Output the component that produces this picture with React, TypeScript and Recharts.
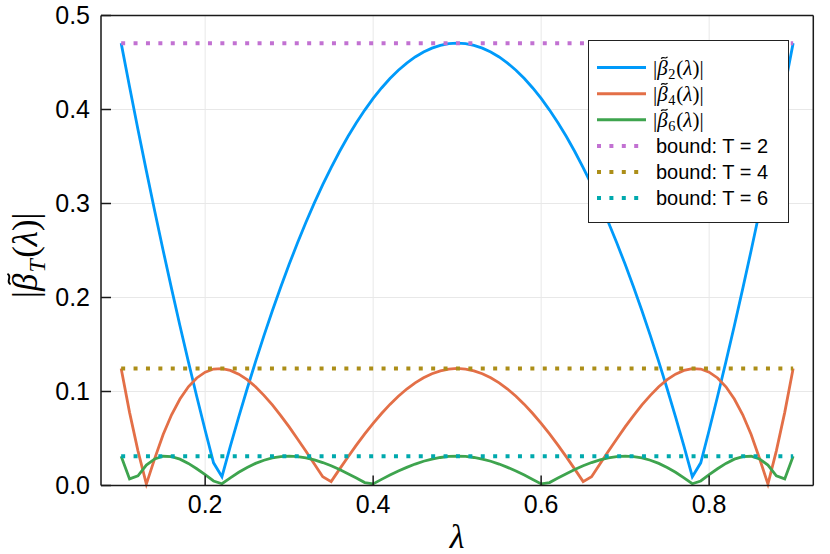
import React from 'react';
import { LineChart, Line, XAxis, YAxis, CartesianGrid, ReferenceLine, Legend } from 'recharts';

// lambda grid (step 0.01)
const lambdas = [
  0.10, 0.11, 0.12, 0.13, 0.14, 0.15, 0.16, 0.17, 0.18, 0.19,
  0.20, 0.21, 0.22, 0.23, 0.24, 0.25, 0.26, 0.27, 0.28, 0.29,
  0.30, 0.31, 0.32, 0.33, 0.34, 0.35, 0.36, 0.37, 0.38, 0.39,
  0.40, 0.41, 0.42, 0.43, 0.44, 0.45, 0.46, 0.47, 0.48, 0.49,
  0.50,
  0.51, 0.52, 0.53, 0.54, 0.55, 0.56, 0.57, 0.58, 0.59, 0.60,
  0.61, 0.62, 0.63, 0.64, 0.65, 0.66, 0.67, 0.68, 0.69, 0.70,
  0.71, 0.72, 0.73, 0.74, 0.75, 0.76, 0.77, 0.78, 0.79, 0.80,
  0.81, 0.82, 0.83, 0.84, 0.85, 0.86, 0.87, 0.88, 0.89, 0.90,
];

const beta2 = [
  0.4706, 0.4241, 0.3788, 0.3347, 0.2918, 0.2500, 0.2094, 0.1700, 0.1318, 0.0947,
  0.0588, 0.0241, 0.0094, 0.0418, 0.0729, 0.1029, 0.1318, 0.1594, 0.1859, 0.2112,
  0.2353, 0.2582, 0.2800, 0.3006, 0.3200, 0.3382, 0.3553, 0.3712, 0.3859, 0.3994,
  0.4118, 0.4229, 0.4330, 0.4418, 0.4494, 0.4559, 0.4612, 0.4653, 0.4682, 0.4700,
  0.4706,
  0.4700, 0.4682, 0.4653, 0.4612, 0.4559, 0.4494, 0.4418, 0.4330, 0.4229, 0.4118,
  0.3994, 0.3859, 0.3712, 0.3553, 0.3382, 0.3200, 0.3006, 0.2800, 0.2582, 0.2353,
  0.2112, 0.1859, 0.1594, 0.1318, 0.1029, 0.0729, 0.0418, 0.0094, 0.0241, 0.0588,
  0.0947, 0.1318, 0.1700, 0.2094, 0.2500, 0.2918, 0.3347, 0.3788, 0.4241, 0.4706,
];

const beta4 = [
  0.1245, 0.0778, 0.0369, 0.0015, 0.0288, 0.0542, 0.0752, 0.0920, 0.1050, 0.1144,
  0.1206, 0.1239, 0.1244, 0.1225, 0.1185, 0.1126, 0.1050, 0.0959, 0.0857, 0.0744,
  0.0623, 0.0495, 0.0364, 0.0229, 0.0094, 0.0041, 0.0174, 0.0304, 0.0429, 0.0549,
  0.0661, 0.0766, 0.0863, 0.0949, 0.1026, 0.1092, 0.1146, 0.1189, 0.1220, 0.1239,
  0.1245,
  0.1239, 0.1220, 0.1189, 0.1146, 0.1092, 0.1026, 0.0949, 0.0863, 0.0766, 0.0661,
  0.0549, 0.0429, 0.0304, 0.0174, 0.0041, 0.0094, 0.0229, 0.0364, 0.0495, 0.0623,
  0.0744, 0.0857, 0.0959, 0.1050, 0.1126, 0.1185, 0.1225, 0.1244, 0.1239, 0.1206,
  0.1144, 0.1050, 0.0920, 0.0752, 0.0542, 0.0288, 0.0015, 0.0369, 0.0778, 0.1245,
];

const beta6 = [
  0.0312, 0.0070, 0.0103, 0.0217, 0.0283, 0.0311, 0.0307, 0.0280, 0.0235, 0.0178,
  0.0115, 0.0048, 0.0019, 0.0082, 0.0141, 0.0192, 0.0235, 0.0269, 0.0293, 0.0308,
  0.0312, 0.0308, 0.0294, 0.0273, 0.0244, 0.0210, 0.0170, 0.0126, 0.0080, 0.0031,
  0.0017, 0.0065, 0.0111, 0.0154, 0.0193, 0.0228, 0.0258, 0.0281, 0.0298, 0.0309,
  0.0312,
  0.0309, 0.0298, 0.0281, 0.0258, 0.0228, 0.0193, 0.0154, 0.0111, 0.0065, 0.0017,
  0.0031, 0.0080, 0.0126, 0.0170, 0.0210, 0.0244, 0.0273, 0.0294, 0.0308, 0.0312,
  0.0308, 0.0293, 0.0269, 0.0235, 0.0192, 0.0141, 0.0082, 0.0019, 0.0048, 0.0115,
  0.0178, 0.0235, 0.0280, 0.0307, 0.0311, 0.0283, 0.0217, 0.0103, 0.0070, 0.0312,
];

// bound values for T = 2, 4, 6
const bounds = [0.4706, 0.1245, 0.0312];
const boundLabels = ['bound: T = 2', 'bound: T = 4', 'bound: T = 6'];
const betaSubs = ['2', '4', '6'];

const xTicks = [0.2, 0.4, 0.6, 0.8];
const yTicks = [0, 0.1, 0.2, 0.3, 0.4, 0.5];

const lineColors = ['#009afa', '#e36f47', '#3ea44e'];
const boundColors = ['#c271d2', '#ac8e18', '#00a9ad'];

const data = lambdas.map((lam, i) => ({
  lam,
  b2: beta2[i],
  b4: beta4[i],
  b6: beta6[i],
  c2: bounds[0],
  c4: bounds[1],
  c6: bounds[2],
}));

const serif = "'Liberation Serif', 'DejaVu Serif', serif";
const sans = "'Liberation Sans', Arial, Helvetica, sans-serif";

// |β_sub(λ)| as text; the tilde over beta is drawn as a small path
const BetaLabel = ({ x, y, size, sub, subItalic }: { x: number; y: number; size: number; sub: string; subItalic: boolean }) => {
  const subShift = size * 0.22;
  const cx = x + size * 0.54;
  const cy = y - size * 0.8;
  const w = size * 0.3;
  const a = size * 0.045;
  return (
    <g>
      <text x={x} y={y} fontFamily={serif} fontSize={size} fill="#000">
        <tspan>|</tspan>
        <tspan fontStyle="italic">β</tspan>
        <tspan dx={size * 0.03} dy={subShift} fontSize={size * 0.68} fontStyle={subItalic ? 'italic' : 'normal'}>{sub}</tspan>
        <tspan dx={size * 0.04} dy={-subShift}>(</tspan>
        <tspan fontStyle="italic">λ</tspan>
        <tspan>)|</tspan>
      </text>
      <path
        d={`M ${cx - w / 2} ${cy + a} C ${cx - w / 4} ${cy - 2.4 * a} ${cx + w / 4} ${cy + 2.4 * a} ${cx + w / 2} ${cy - a}`}
        stroke="#000"
        strokeWidth={size * 0.055}
        fill="none"
      />
    </g>
  );
};

const LegendBox = () => {
  const rowY = (i: number) => 26.6 + 26.1 * i;
  return (
    <div style={{ width: 201, height: 183, border: '1.5px solid #222', background: '#fff', boxSizing: 'border-box' }}>
      <svg width={198} height={180} style={{ display: 'block' }}>
        {betaSubs.map((s, i) => (
          <g key={s}>
            <line x1={8} x2={57} y1={rowY(i)} y2={rowY(i)} stroke={lineColors[i]} strokeWidth={3} />
            <BetaLabel x={64} y={rowY(i) + 7} size={21} sub={s} subItalic={false} />
          </g>
        ))}
        {boundLabels.map((s, i) => (
          <g key={s}>
            <line x1={8} x2={50} y1={rowY(i + 3)} y2={rowY(i + 3)} stroke={boundColors[i]} strokeWidth={4} strokeDasharray="4 8.4" />
            <text x={67} y={rowY(i + 3) + 7} fontFamily={sans} fontSize={20} fill="#000">{s}</text>
          </g>
        ))}
      </svg>
    </div>
  );
};

const YLabel = () => (
  <g transform="translate(37,251) rotate(-90)">
    <BetaLabel x={-47} y={0} size={35} sub="T" subItalic />
  </g>
);

const XLabel = () => (
  <text x={457} y={548} textAnchor="middle" fontFamily={serif} fontStyle="italic" fontSize={34} fill="#000">λ</text>
);

export default function App() {
  const axisColor = '#1a1a1a';
  return (
    <div style={{ position: 'absolute', left: 0, top: 0, width: 830, height: 554, background: '#fff' }}>
      <LineChart width={830} height={554} data={data} margin={{ top: 15.5, right: 16.7, bottom: 38.5, left: 0 }}>
        <CartesianGrid stroke="#e8e8e8" strokeWidth={1} />
        <XAxis
          dataKey="lam"
          type="number"
          domain={[0.076, 0.924]}
          ticks={xTicks}
          tickFormatter={(v: number) => v.toFixed(1)}
          height={30}
          tickSize={-10}
          tickMargin={20}
          stroke={axisColor}
          strokeWidth={1.5}
          tick={{ fill: '#000', fontSize: 25, fontFamily: sans }}
          label={<XLabel />}
        />
        <YAxis
          type="number"
          domain={[0, 0.5]}
          ticks={yTicks}
          tickFormatter={(v: number) => v.toFixed(1)}
          width={101}
          tickSize={-10}
          tickMargin={21}
          stroke={axisColor}
          strokeWidth={1.5}
          tick={{ fill: '#000', fontSize: 25, fontFamily: sans }}
          label={<YLabel />}
        />
        <ReferenceLine y={0.5} stroke={axisColor} strokeWidth={1.5} />
        <ReferenceLine x={0.924} stroke={axisColor} strokeWidth={1.5} />
        <Line dataKey="b2" stroke={lineColors[0]} strokeWidth={2.8} dot={false} isAnimationActive={false} />
        <Line dataKey="b4" stroke={lineColors[1]} strokeWidth={2.8} dot={false} isAnimationActive={false} />
        <Line dataKey="b6" stroke={lineColors[2]} strokeWidth={2.8} dot={false} isAnimationActive={false} />
        <Line dataKey="c2" stroke={boundColors[0]} strokeWidth={4} strokeDasharray="4 8.4" dot={false} isAnimationActive={false} />
        <Line dataKey="c4" stroke={boundColors[1]} strokeWidth={4} strokeDasharray="4 8.4" dot={false} isAnimationActive={false} />
        <Line dataKey="c6" stroke={boundColors[2]} strokeWidth={4} strokeDasharray="4 8.4" dot={false} isAnimationActive={false} />
        <Legend
          layout="horizontal"
          verticalAlign="middle"
          align="center"
          content={<LegendBox />}
          wrapperStyle={{ left: 588, top: 40, width: 201, height: 183 }}
        />
      </LineChart>
    </div>
  );
}
